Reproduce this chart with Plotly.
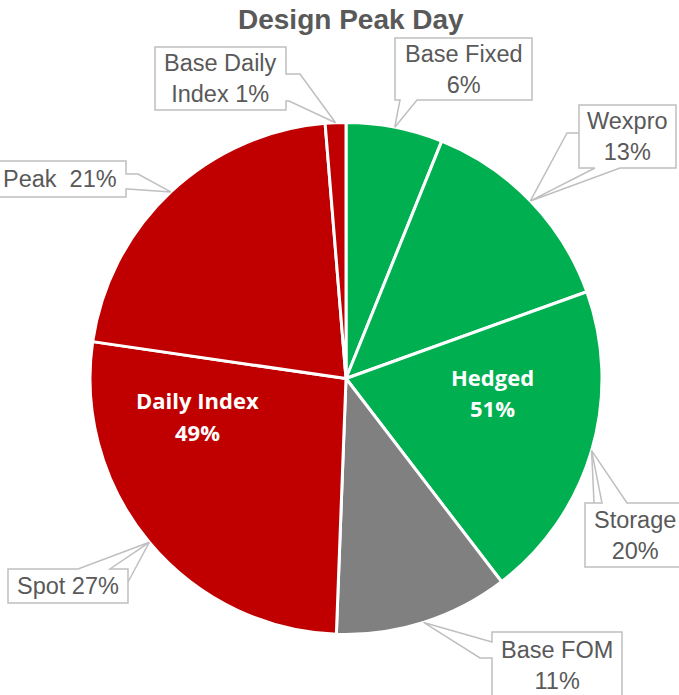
import math
import plotly.graph_objects as go

# ---------------- data ----------------
labels = ["Base Fixed", "Wexpro", "Storage", "Base FOM", "Spot", "Peak", "Base Daily Index"]
values = [6.1, 13.4, 20.1, 11.0, 26.7, 21.4, 1.3]
slice_colors = ["#00B050", "#00B050", "#00B050", "#808080", "#C00000", "#C00000", "#C00000"]
callout_texts = ["Base Fixed<br>6%", "Wexpro<br>13%", "Storage<br>20%", "Base FOM<br>11%",
                 "Spot 27%", "Peak\u00a0 21%", "Base Daily<br>Index 1%"]
group_names = ["Hedged", "Daily Index"]
group_pcts = ["51%", "49%"]
title_text = "Design Peak Day"

# ---------------- layout constants (pixels) ----------------
W, H = 679, 695
PIE_L, PIE_R, PIE_T, PIE_B = 90, 602, 122, 635
cx, cy = (PIE_L + PIE_R) / 2, (PIE_T + PIE_B) / 2
R = min(PIE_R - PIE_L, PIE_B - PIE_T) / 2

def px(x):
    return x / W

def py(y):
    return 1 - y / H

# tip of each callout: edge of the pie at the slice's mid angle
total = sum(values)
tips = []
cum = 0.0
for v in values:
    mid = (cum + v / 2) / total
    th = 2 * math.pi * mid
    tips.append((cx + R * math.sin(th), cy - R * math.cos(th)))
    cum += v

T = "TIP"
# callout outlines (box with wedge) and extra leader lines, in pixels
callout_shapes = {
    "Base Fixed": ([(395, 38), (532, 38), (532, 100), (417, 100), T, (400, 100), (395, 100)], []),
    "Wexpro": ([(579, 105), (676, 105), (676, 168), (620, 168), T, (595, 168), (579, 168)],
               [[(579, 133), (567, 133), T]]),
    "Storage": ([(585, 503), (602, 503), T, (627, 503), (692, 503), (692, 567), (585, 567)],
                [[(594, 503), T]]),
    "Base FOM": ([(492, 632), (622, 632), (622, 705), (492, 705), (492, 658), (480, 658), T, (492, 642)], []),
    "Spot": ([(8, 569), (78, 569), T, (110, 569), (128, 569), (128, 603), (8, 603)],
             [[(128, 582), T]]),
    "Peak": ([(-10, 161), (126, 161), (126, 174), (138, 174), T, (128, 189), (126, 189), (126, 197), (-10, 197)], []),
    "Base Daily Index": ([(155, 47), (286, 47), (286, 74), (300, 74), T, (289, 101), (286, 101), (286, 110), (155, 110)], []),
}
text_centers = {
    "Base Fixed": (463.5, 69), "Wexpro": (627.5, 136.5), "Storage": (635, 535),
    "Base FOM": (557, 665), "Spot": (68, 586), "Peak": (60, 179), "Base Daily Index": (220.5, 78.5),
}
group_centers = [(492, 377, 408), (197.5, 400, 432)]

fig = go.Figure(go.Pie(
    labels=labels, values=values, sort=False, direction="clockwise", rotation=0,
    marker=dict(colors=slice_colors, line=dict(color="white", width=3)),
    textinfo="none", hoverinfo="label+percent", showlegend=False,
    domain=dict(x=[px(PIE_L), px(PIE_R)], y=[py(PIE_B), py(PIE_T)]),
))

def path_str(pts, tip, close):
    out = []
    for i, p in enumerate(pts):
        q = tip if p == T else p
        out.append(("M" if i == 0 else "L") + f"{px(q[0]):.5f},{py(q[1]):.5f}")
    return " ".join(out) + (" Z" if close else "")

shapes = []
annotations = []
LINE = "#BFBFBF"
TXT = "#595959"
for i, lab in enumerate(labels):
    outline, leaders = callout_shapes[lab]
    tip = tips[i]
    for ld in leaders:
        shapes.append(dict(type="path", xref="paper", yref="paper", path=path_str(ld, tip, False),
                           line=dict(color=LINE, width=1.5)))
    shapes.append(dict(type="path", xref="paper", yref="paper", path=path_str(outline, tip, True),
                       fillcolor="white", line=dict(color=LINE, width=1.5)))
    tx, ty = text_centers[lab]
    annotations.append(dict(x=px(tx), y=py(ty), xref="paper", yref="paper", text=callout_texts[i],
                            showarrow=False, xanchor="center", yanchor="middle",
                            font=dict(family="Liberation Sans, Arial", size=23.5, color=TXT)))

for name, pct, (gx, gy1, gy2) in zip(group_names, group_pcts, group_centers):
    for t, gy in ((name, gy1), (pct, gy2)):
        annotations.append(dict(x=px(gx), y=py(gy), xref="paper", yref="paper", text=f"<b>{t}</b>",
                                showarrow=False, xanchor="center", yanchor="middle",
                                font=dict(family="Open Sans", size=22, color="white")))

annotations.append(dict(x=px(351), y=py(19), xref="paper", yref="paper", text=f"<b>{title_text}</b>",
                        showarrow=False, xanchor="center", yanchor="middle",
                        font=dict(family="Liberation Sans, Arial", size=28, color=TXT)))

fig.update_layout(
    width=W, height=H, margin=dict(l=0, r=0, t=0, b=0),
    paper_bgcolor="white", plot_bgcolor="white",
    shapes=shapes, annotations=annotations,
)
fig.write_html("out.html", config={"displayModeBar": False},
               post_script="document.body.style.margin='0';document.body.style.overflow='hidden';")
